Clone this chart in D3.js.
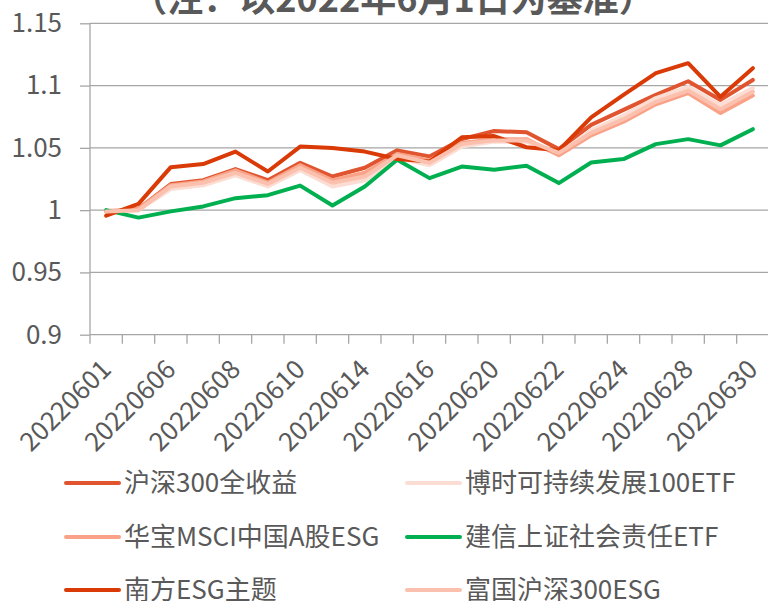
<!DOCTYPE html>
<html><head><meta charset="utf-8">
<script src="https://cdn.jsdelivr.net/npm/d3@7"></script>
<style>
html,body{margin:0;padding:0;background:#fff;}
svg{display:block;font-family:"Noto Sans CJK SC","Noto Sans",sans-serif;}
</style></head>
<body>
<svg id="c" width="768" height="601"></svg>
<script>
const title = "（注：以2022年6月1日为基准）";
const dates = ["20220601","20220602","20220606","20220607","20220608","20220609","20220610","20220613","20220614","20220615","20220616","20220617","20220620","20220621","20220622","20220623","20220624","20220627","20220628","20220629","20220630"];
const yTicks = [0.9,0.95,1,1.05,1.1,1.15];
const seriesNames = ["沪深300全收益","博时可持续发展100ETF","华宝MSCI中国A股ESG","建信上证社会责任ETF","南方ESG主题","富国沪深300ESG"];
const seriesColors = ["#E0552F","#FCDDD3","#F9A287","#00B050","#D93A06","#FBC1AE"];
const hs300 = [0.999,1.001,1.021,1.024,1.033,1.024,1.038,1.027,1.034,1.048,1.043,1.057,1.0635,1.0625,1.049,1.0685,1.0805,1.0925,1.1035,1.0885,1.1045];
const boshi = [1.0,1.0,1.017,1.020,1.028,1.019,1.032,1.019,1.024,1.042,1.036,1.051,1.055,1.055,1.045,1.064,1.076,1.090,1.099,1.0845,1.098];
const huabao = [0.999,1.001,1.020,1.023,1.032,1.022,1.036,1.024,1.030,1.045,1.040,1.054,1.057,1.057,1.044,1.060,1.071,1.085,1.094,1.078,1.092];
const jianxin = [1.0,0.994,0.999,1.003,1.0096,1.012,1.0197,1.0037,1.019,1.0404,1.0257,1.035,1.0325,1.0356,1.0217,1.0382,1.041,1.053,1.057,1.052,1.065];
const nanfang = [0.9955,1.005,1.0345,1.037,1.047,1.031,1.051,1.0498,1.047,1.041,1.039,1.0585,1.0595,1.0505,1.048,1.0745,1.0925,1.110,1.118,1.091,1.114];
const fuguo = [0.999,1.0,1.019,1.022,1.030,1.021,1.034,1.022,1.027,1.044,1.038,1.053,1.056,1.056,1.046,1.062,1.073,1.087,1.096,1.081,1.095];
const seriesValues = [hs300,boshi,huabao,jianxin,nanfang,fuguo];

const svg = d3.select("#c");
const textColor = "#595959", gridColor = "#A6A6A6";
const mLeft = 90, mRight = 769, mTop = 23.3, mBottom = 334.7;

const x = d3.scaleBand().domain(dates).range([mLeft, mRight]).padding(0);
const y = d3.scaleLinear().domain([0.9,1.15]).range([mBottom, mTop]);

// title (partially clipped at top)
svg.append("text").attr("x", 393).attr("y", 12).attr("text-anchor","middle")
  .attr("font-size", 36).attr("font-weight","bold").attr("fill", textColor).text(title);

// gridlines + y axis
const yAxis = d3.axisLeft(y).tickValues(yTicks).tickSize(10).tickPadding(18)
  .tickFormat(d => String(+d.toFixed(2)));
const gy = svg.append("g").attr("transform",`translate(${mLeft},0)`).call(yAxis);
gy.select(".domain").remove();
gy.selectAll(".tick line").attr("stroke", gridColor).attr("stroke-width",1.3);
gy.selectAll(".tick text").attr("fill", textColor).attr("font-size", 26)
  .attr("font-family",'"Noto Sans CJK SC","Noto Sans",sans-serif');
svg.append("g").selectAll("line").data(yTicks).join("line")
  .attr("x1", mLeft).attr("x2", 768).attr("y1", d=>y(d)).attr("y2", d=>y(d))
  .attr("stroke", gridColor).attr("stroke-width",1.3);
svg.append("line").attr("x1", mLeft).attr("x2", mLeft).attr("y1", mTop).attr("y2", mBottom)
  .attr("stroke", gridColor).attr("stroke-width",1.3);

// x axis ticks at band boundaries
const boundaries = dates.map(d => x(d));
svg.append("g").selectAll("line").data(boundaries).join("line")
  .attr("x1", d=>d).attr("x2", d=>d).attr("y1", mBottom).attr("y2", mBottom+9)
  .attr("stroke", gridColor).attr("stroke-width",1.3);
const labelDates = dates.filter((d,i)=> i%2===0);
svg.append("g").selectAll("text").data(labelDates).join("text")
  .attr("transform", d => `translate(${x(d)+x.bandwidth()/2},${mBottom+30}) rotate(-45)`)
  .attr("text-anchor","end").attr("dy","0.35em")
  .attr("font-size", 26).attr("fill", textColor).text(d=>d);

// lines
const line = d3.line().x((v,i)=> x(dates[i]) + x.bandwidth()/2).y(v=>y(v));
svg.append("g").selectAll("path").data(seriesValues).join("path")
  .attr("d", d=>line(d)).attr("fill","none")
  .attr("stroke", (d,i)=>seriesColors[i]).attr("stroke-width",4)
  .attr("stroke-linejoin","round").attr("stroke-linecap","round");

// legend
const legendPos = [[66,483],[407,483],[66,537],[407,537],[66,590],[407,590]];
const lg = svg.append("g").selectAll("g").data(seriesNames).join("g")
  .attr("transform",(d,i)=>`translate(${legendPos[i][0]},${legendPos[i][1]})`);
lg.append("line").attr("x1",0).attr("x2",53).attr("y1",0).attr("y2",0)
  .attr("stroke",(d,i)=>seriesColors[i]).attr("stroke-width",4).attr("stroke-linecap","round");
lg.append("text").attr("x",58).attr("y",0).attr("dy","0.35em")
  .attr("font-size",26).attr("fill",textColor).text(d=>d);
</script>
</body></html>
